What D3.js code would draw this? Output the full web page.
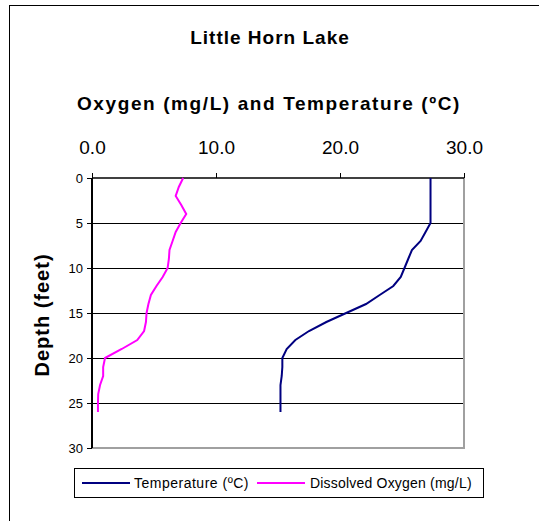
<!DOCTYPE html>
<html>
<head>
<meta charset="utf-8">
<script src="https://cdn.jsdelivr.net/npm/d3@7"></script>
<style>
  body { margin: 0; background: #fff; }
  svg { display: block; font-family: Arial, "Liberation Sans", sans-serif; }
</style>
</head>
<body>
<svg id="chart" width="539" height="521"></svg>
<script>
// depth profile, one reading per foot
var depths = [0,1,2,3,4,5,6,7,8,9,10,11,12,13,14,15,16,17,18,19,20,21,22,23,24,25,26];
var temperature = [27.3,27.3,27.3,27.3,27.3,27.3,26.9,26.5,25.8,25.5,25.2,24.9,24.3,23.2,22.1,20.5,18.9,17.5,16.4,15.7,15.35,15.35,15.3,15.2,15.2,15.2,15.2];
var oxygen = [7.35,7.0,6.75,7.2,7.6,7.15,6.75,6.5,6.25,6.2,6.1,5.7,5.2,4.75,4.55,4.4,4.35,4.2,3.65,2.4,1.05,0.9,0.9,0.65,0.5,0.48,0.48];
var xTicks = [0,10,20,30];
var yTicks = [0,5,10,15,20,25,30];
var seriesNames = ["Temperature (ºC)", "Dissolved Oxygen (mg/L)"];
var seriesColors = ["#000080", "#ff00ff"];

var svg = d3.select("#chart");
var plotLeft = 92, plotRight = 464, plotTop = 178, plotBottom = 448;

var x = d3.scaleLinear().domain([0, 30]).range([plotLeft, plotRight]);
var y = d3.scaleLinear().domain([0, 30]).range([plotTop, plotBottom]);

// outer frame (only left/top visible)
svg.append("rect").attr("x", 9.5).attr("y", 5.5).attr("width", 600).attr("height", 600)
  .attr("fill", "none").attr("stroke", "#000").attr("stroke-width", 1);

// titles
svg.append("text").attr("x", 270).attr("y", 44).attr("text-anchor", "middle")
  .attr("font-size", 19).attr("font-weight", "bold").attr("letter-spacing", 1)
  .text("Little Horn Lake");
svg.append("text").attr("x", 269).attr("y", 110).attr("text-anchor", "middle")
  .attr("font-size", 19).attr("font-weight", "bold").attr("letter-spacing", 1.6)
  .text("Oxygen (mg/L) and Temperature (ºC)");

// gridlines
svg.append("g").selectAll("line").data(yTicks.filter(function(d) { return d > 0 && d < 30; }))
  .enter().append("line")
  .attr("x1", plotLeft).attr("x2", plotRight)
  .attr("y1", function(d) { return y(d) + 0.5; }).attr("y2", function(d) { return y(d) + 0.5; })
  .attr("stroke", "#000").attr("stroke-width", 1).attr("shape-rendering", "crispEdges");

// right + bottom plot border (grey)
svg.append("path")
  .attr("d", "M" + plotRight + "," + plotTop + "V" + plotBottom + "H" + plotLeft)
  .attr("fill", "none").attr("stroke", "#a0a0a0").attr("stroke-width", 2);

// top axis
var xAxis = d3.axisTop(x).tickValues(xTicks).tickSize(5).tickFormat(d3.format(".1f"));
var gx = svg.append("g").attr("transform", "translate(0," + plotTop + ")").call(xAxis);
gx.select(".domain").attr("stroke", "#000").attr("stroke-width", 1.5).attr("d", "M" + plotLeft + ",0H" + plotRight);
gx.selectAll(".tick line").attr("stroke", "#000").attr("shape-rendering", "crispEdges");
gx.selectAll(".tick text").attr("font-size", 19).attr("font-family", "Arial, 'Liberation Sans', sans-serif")
  .attr("fill", "#000").attr("y", -24);

// left axis
var yAxis = d3.axisLeft(y).tickValues(yTicks).tickSize(5).tickPadding(4);
var gy = svg.append("g").attr("transform", "translate(" + plotLeft + ",0)").call(yAxis);
gy.select(".domain").attr("stroke", "#000").attr("stroke-width", 2).attr("d", "M0," + plotTop + "V" + plotBottom);
gy.selectAll(".tick line").attr("stroke", "#000").attr("shape-rendering", "crispEdges");
gy.selectAll(".tick text").attr("font-size", 13).attr("font-family", "Arial, 'Liberation Sans', sans-serif").attr("fill", "#000");

svg.append("text").attr("transform", "translate(49,315) rotate(-90)").attr("text-anchor", "middle")
  .attr("font-size", 20).attr("font-weight", "bold").attr("letter-spacing", 1).text("Depth (feet)");

// profiles
var tempLine = d3.line().x(function(d, i) { return x(temperature[i]); }).y(function(d) { return y(d); });
var oxyLine = d3.line().x(function(d, i) { return x(oxygen[i]); }).y(function(d) { return y(d); });
svg.append("path").datum(depths).attr("d", tempLine).attr("fill", "none")
  .attr("stroke", seriesColors[0]).attr("stroke-width", 2);
svg.append("path").datum(depths).attr("d", oxyLine).attr("fill", "none")
  .attr("stroke", seriesColors[1]).attr("stroke-width", 2);

// legend
var lg = svg.append("g");
lg.append("rect").attr("x", 74.5).attr("y", 468.5).attr("width", 409).attr("height", 29)
  .attr("fill", "#fff").attr("stroke", "#000").attr("stroke-width", 1);
var items = [{x: 82, tx: 134, ls: 0.5}, {x: 257, tx: 310, ls: 0.2}];
items.forEach(function(it, i) {
  lg.append("line").attr("x1", it.x).attr("x2", it.x + 48).attr("y1", 483).attr("y2", 483)
    .attr("stroke", seriesColors[i]).attr("stroke-width", 2);
  lg.append("text").attr("x", it.tx).attr("y", 488).attr("font-size", 14)
    .attr("letter-spacing", it.ls).text(seriesNames[i]);
});
</script>
</body>
</html>
